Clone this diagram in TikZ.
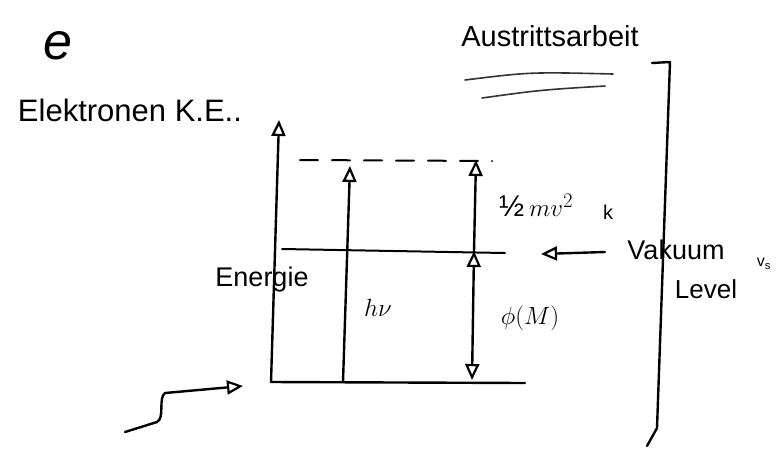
\documentclass[tikz,border=0pt]{standalone}
\usepackage{fontspec}
\setmainfont{Liberation Sans}
\usetikzlibrary{arrows.meta}
\tikzset{
  ink/.style={line width=2.4pt, line cap=round, line join=round, black},
  tip/.tip={Triangle[open, length=16pt, width=14pt, line width=2.2pt]},
  arr/.style={ink, -tip},
  darr/.style={ink, tip-tip},
  lbl/.style={inner sep=0pt},
  thin/.style={line width=1.6pt, line cap=round, black!80}
}
\begin{document}
\begin{tikzpicture}[x=1pt,y=-1pt]
\useasboundingbox (0,0) rectangle (779,448);
% coordinates
\coordinate (axisbot) at (271,382);
\coordinate (axistop) at (279,120);
\coordinate (baseR) at (525,383);
\coordinate (hvbot) at (343,382);
\coordinate (hvtop) at (350,166);
\coordinate (dashL) at (300,160);
\coordinate (dashR) at (492,161);
\coordinate (vacL) at (282,249);
\coordinate (vacR) at (505,253);
\coordinate (phibot) at (472,380);
\coordinate (phitop) at (474,251);
\coordinate (ketop) at (476,160);
\coordinate (vkstart) at (605,252);
\coordinate (vkend) at (541,254);
\coordinate (brA) at (652,63);
\coordinate (brB) at (670,62);
\coordinate (brC) at (657,428);
\coordinate (brD) at (647,446);
\coordinate (sqA) at (125,432);
\coordinate (sqB) at (243,386);
% texts
\node[lbl, font=\fontsize{52}{52}\selectfont\itshape] (e) at (58,46) {e};
\node[lbl, font=\fontsize{31}{32}\selectfont] (ke) at (130,110) {Elektronen K.E..};
\node[lbl, font=\fontsize{29}{30}\selectfont] (aus) at (550,36) {Austrittsarbeit};
\node[lbl, font=\fontsize{27}{28}\selectfont] (energie) at (262,280) {Energie};
\node[lbl, font=\fontsize{32}{32}\selectfont] (hv) at (378,308) {$h\nu$};
\node[lbl, font=\fontsize{30}{30}\selectfont] (kin) at (536,205) {½\,$mv^2$};
\node[lbl, font=\fontsize{32}{32}\selectfont] (phi) at (530,318) {$\phi(M)$};
\node[lbl, font=\fontsize{20}{20}\selectfont] (k) at (608,212) {k};
\node[lbl, font=\fontsize{27}{28}\selectfont] (vak) at (676,250) {Vakuum};
\node[lbl, font=\fontsize{26}{28}\selectfont] (lev) at (706,289) {Level};
\node[lbl, font=\fontsize{16}{16}\selectfont] (vs) at (764,264) {v\textsubscript{s}};
% lines
\draw[arr] (axisbot) -- (axistop);
\draw[ink] (axisbot) -- (baseR);
\draw[arr] (hvbot) -- (hvtop);
\draw[ink, dash pattern=on 18pt off 14pt, line width=2pt] (dashL) -- (dashR);
\draw[ink, line width=2pt] (vacL) -- (vacR);
\draw[darr] (phibot) -- (phitop);
\draw[arr] (phitop) -- (ketop);
\draw[arr] (vkstart) -- (vkend);
\draw[ink] (brA) -- (brB) -- (brC) -- (brD);
\draw[thin] (465,80) .. controls (530,72) .. (613,74);
\draw[thin] (482,98) .. controls (540,90) .. (605,86);
\draw[arr] (sqA) -- (157,422) .. controls (165,418) and (158,398) .. (165,393) -- (sqB);
\end{tikzpicture}
\end{document}
